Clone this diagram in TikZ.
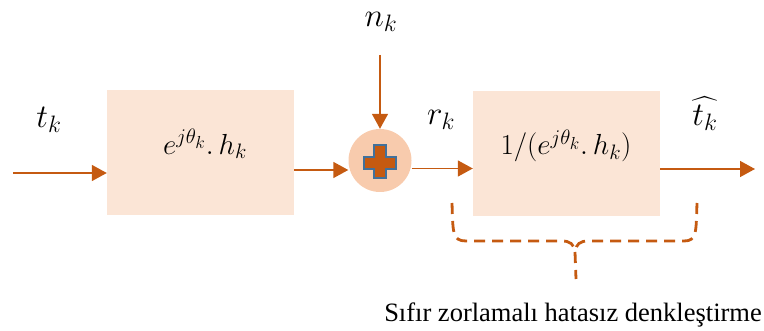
\RequirePackage{fix-cm}
\documentclass[tikz,border=0pt]{standalone}
\usepackage{exscale}
\usepackage{fontspec}
\setmainfont{Liberation Serif}
\usetikzlibrary{arrows.meta}
% larger script levels for the big formula labels
\renewcommand\defaultscriptratio{.72}
\renewcommand\defaultscriptscriptratio{.6}
\definecolor{boxfill}{HTML}{FBE5D6}
\definecolor{sumfill}{HTML}{F8CBAD}
\definecolor{wire}{HTML}{C55A11}
\definecolor{plusedge}{HTML}{41719C}
\begin{document}
\begin{tikzpicture}[x=1pt,y=-1pt,
  blockbox/.style={fill=boxfill,draw=none,minimum width=187pt,minimum height=125pt,inner sep=0pt},
  sumnode/.style={circle,fill=sumfill,draw=none,minimum size=63pt,inner sep=0pt},
  sig/.style={font=\fontsize{33}{36}\selectfont,inner sep=1pt},
  blocktext/.style={font=\fontsize{29}{31}\selectfont},
  flow/.style={draw=wire,line width=1.5pt,-{Triangle[length=15pt,width=16pt]}},
  bracket/.style={draw=wire,line width=2.8pt,dash pattern=on 11pt off 7pt}]
\useasboundingbox (0,0) rectangle (764,331);

% blocks and summing junction
\node[blockbox] (h) at (200.5,153) {};
\node[blockbox] (eq) at (566.5,153.5) {};
\node[sumnode] (sum) at (380,160.5) {};

% plus sign inside the junction
\filldraw[fill=wire,draw=plusedge,line width=2pt]
  (374,145) -- (386,145) -- (386,157) -- (396,157) -- (396,169) -- (386,169)
  -- (386,178) -- (374,178) -- (374,169) -- (364,169) -- (364,157) -- (374,157) -- cycle;

% block contents
\node[blocktext] (htext) at (205,144) {$e^{j\theta_k}.\,h_k$};
\node[blocktext] (eqtext) at (566,146) {$1/(e^{j\theta_k}.\,h_k)$};

% signal labels
\node[sig] (tk) at (49,120) {$t_k$};
\node[sig] (nk) at (381,22) {$n_k$};
\node[sig] (rk) at (441,120) {$r_k$};
\node[sig] (tkhat) at (705,114) {$\widehat{t_k}$};

% signal flow
\coordinate (in) at (13,173);
\coordinate (noise) at (380,55);
\coordinate (out) at (755,169);
\draw[flow] (in) -- (h.west |- in);
\draw[flow] (h.east |- 0,170) -- (sum.west |- 0,170);
\draw[flow] (noise) -- (sum.north);
\draw[flow] (sum.east |- 0,168.5) -- (eq.west |- 0,168.5);
\draw[flow] (eq.east |- out) -- (out);

% dashed brace under the equalizer
\coordinate (bl) at (452,203);
\coordinate (br) at (697,203);
\coordinate (cusp) at (575,252);
\coordinate (tip) at (576,279);
\draw[bracket] (bl) .. controls (453,232) and (452,241) .. (466,241)
  -- (562,241) .. controls (570,241) and (574,244) .. (cusp);
\draw[bracket] (br) .. controls (696,232) and (697,241) .. (684,241)
  -- (588,241) .. controls (580,241) and (576,244) .. (cusp);
\draw[bracket] (cusp) -- (tip);

% caption
\node[font=\fontsize{26.5}{28}\selectfont,anchor=base] (caption) at (573,322)
  {Sıfır zorlamalı hatasız denkleştirme};
\end{tikzpicture}
\end{document}
